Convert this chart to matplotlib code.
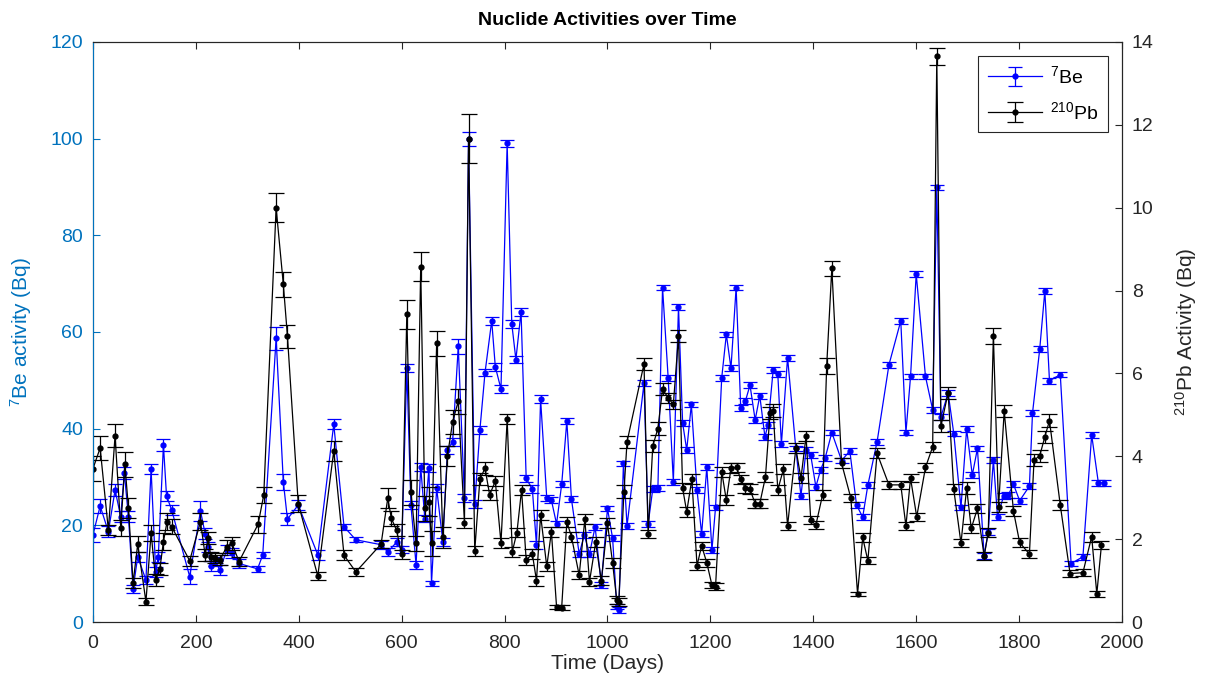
import matplotlib
matplotlib.use("Agg")
import matplotlib.pyplot as plt
import numpy as np

plt.rcParams['font.family'] = ['Liberation Sans', 'DejaVu Sans']
plt.rcParams['mathtext.default'] = 'regular'

# 7Be series (days, Bq, +/- Bq)
be_days = [0, 14, 30, 43, 54, 61, 69, 78, 87, 103,
           113, 122, 127, 137, 143, 153, 188, 209, 218, 224,
           229, 237, 247, 260, 270, 284, 320, 330, 356, 370,
           378, 399, 437, 468, 488, 511, 560, 573, 590, 600,
           610, 618, 628, 637, 645, 653, 658, 668, 680, 689,
           699, 710, 722, 730, 742, 752, 762, 775, 782, 793,
           805, 814, 822, 832, 842, 854, 862, 870, 882, 891,
           901, 911, 921, 930, 945, 955, 965, 976, 988, 1000,
           1010, 1018, 1022, 1031, 1038, 1071, 1079, 1088, 1098, 1107,
           1118, 1128, 1138, 1146, 1154, 1163, 1174, 1183, 1193, 1203,
           1210, 1222, 1231, 1240, 1250, 1259, 1268, 1277, 1287, 1296,
           1306, 1312, 1322, 1331, 1338, 1350, 1366, 1376, 1386, 1395,
           1405, 1414, 1423, 1436, 1455, 1471, 1484, 1496, 1506, 1524,
           1547, 1570, 1580, 1589, 1600, 1618, 1632, 1640, 1648, 1662,
           1673, 1687, 1698, 1709, 1719, 1732, 1740, 1750, 1758, 1770,
           1779, 1789, 1801, 1820, 1826, 1840, 1850, 1859, 1880, 1901,
           1924, 1941, 1954, 1964]
be_act = [18.0, 24.0, 18.7, 27.3, 21.8, 30.8, 21.8, 6.8, 13.5, 8.7,
          31.6, 10.4, 13.5, 36.6, 26.1, 23.2, 9.4, 23.0, 18.3, 15.5,
          11.6, 12.5, 10.8, 14.9, 14.3, 12.1, 11.0, 13.9, 58.7, 29.0,
          21.3, 24.2, 13.9, 40.9, 19.7, 17.0, 16.0, 14.5, 16.5, 15.0,
          52.5, 24.2, 11.8, 32.1, 21.4, 31.8, 8.0, 27.7, 16.6, 35.6,
          37.3, 57.0, 25.6, 99.9, 24.4, 39.7, 51.6, 62.3, 52.8, 48.2,
          99.0, 61.7, 54.3, 64.2, 29.7, 27.5, 15.9, 46.1, 25.6, 25.2,
          20.3, 28.5, 41.6, 25.4, 14.1, 18.0, 14.1, 19.7, 7.7, 23.5,
          17.3, 3.2, 2.5, 32.8, 19.9, 49.4, 20.3, 27.5, 27.7, 69.2,
          50.4, 29.0, 65.2, 41.2, 35.6, 45.0, 27.3, 18.2, 32.0, 14.9,
          23.7, 50.5, 59.5, 52.5, 69.2, 44.2, 45.7, 49.0, 41.8, 46.8,
          38.3, 40.8, 52.1, 51.3, 36.8, 54.7, 35.9, 26.1, 35.6, 34.5,
          28.0, 31.4, 33.9, 39.2, 33.4, 35.4, 24.2, 21.7, 28.3, 37.3,
          53.2, 62.3, 39.2, 50.8, 72.0, 50.8, 43.9, 89.9, 42.4, 47.4,
          39.0, 23.7, 39.9, 30.4, 35.9, 13.7, 18.7, 33.5, 21.8, 26.1,
          26.3, 28.5, 25.1, 28.1, 43.2, 56.4, 68.5, 49.9, 51.2, 12.1,
          13.5, 38.7, 28.8, 28.8]
be_err = [1.5, 1.5, 1.2, 1.3, 1.2, 1.2, 1.2, 0.8, 1.0, 0.8,
          1.0, 1.0, 1.0, 1.2, 1.0, 1.0, 1.5, 2.0, 1.2, 1.0,
          1.0, 1.0, 1.0, 1.0, 1.0, 1.0, 0.6, 0.6, 2.4, 1.6,
          1.2, 1.0, 1.0, 1.0, 0.6, 0.5, 0.8, 0.8, 0.8, 0.8,
          0.8, 0.8, 0.8, 0.8, 0.8, 0.8, 0.5, 0.8, 0.8, 0.8,
          0.8, 1.6, 0.8, 1.4, 0.8, 0.8, 0.8, 0.8, 0.8, 0.8,
          0.8, 0.8, 0.8, 0.8, 0.8, 0.8, 0.8, 0.8, 0.6, 0.6,
          0.6, 0.6, 0.6, 0.6, 0.6, 0.6, 0.6, 0.6, 0.6, 0.6,
          0.6, 0.6, 0.6, 0.6, 0.6, 0.6, 0.6, 0.6, 0.6, 0.6,
          0.6, 0.6, 0.6, 0.6, 0.6, 0.6, 0.6, 0.6, 0.6, 0.6,
          0.6, 0.6, 0.6, 0.6, 0.6, 0.6, 0.6, 0.6, 0.6, 0.6,
          0.6, 0.6, 0.6, 0.6, 0.6, 0.6, 0.6, 0.6, 0.6, 0.6,
          0.6, 0.6, 0.6, 0.6, 0.6, 0.6, 0.6, 0.6, 0.6, 0.6,
          0.6, 0.6, 0.6, 0.6, 0.6, 0.6, 0.6, 0.6, 0.6, 0.6,
          0.6, 0.6, 0.6, 0.6, 0.6, 0.6, 0.6, 0.6, 0.6, 0.6,
          0.6, 0.6, 0.6, 0.6, 0.6, 0.6, 0.6, 0.6, 0.6, 0.6,
          0.6, 0.6, 0.6, 0.6]

# 210Pb series (days, Bq, +/- Bq)
pb_days = [0, 14, 30, 43, 54, 62, 69, 78, 87, 103,
           113, 122, 130, 137, 144, 153, 188, 209, 218, 224,
           229, 237, 247, 260, 270, 284, 321, 332, 356, 370,
           378, 399, 437, 468, 488, 511, 560, 573, 580, 590,
           600, 610, 618, 628, 637, 645, 653, 658, 668, 680,
           689, 699, 710, 722, 730, 742, 752, 762, 771, 782,
           793, 805, 815, 824, 833, 842, 854, 862, 870, 882,
           891, 901, 911, 921, 930, 945, 956, 965, 977, 988,
           1000, 1010, 1018, 1022, 1032, 1038, 1071, 1079, 1088, 1098,
           1107, 1118, 1128, 1138, 1146, 1154, 1164, 1174, 1183, 1193,
           1203, 1210, 1222, 1231, 1240, 1251, 1259, 1268, 1277, 1287,
           1296, 1307, 1316, 1322, 1331, 1342, 1350, 1366, 1376, 1386,
           1395, 1405, 1418, 1426, 1436, 1455, 1473, 1486, 1496, 1506,
           1524, 1547, 1570, 1580, 1589, 1601, 1618, 1632, 1640, 1648,
           1662, 1673, 1687, 1698, 1707, 1719, 1732, 1740, 1750, 1760,
           1771, 1789, 1801, 1820, 1829, 1840, 1850, 1859, 1880, 1899,
           1924, 1941, 1951, 1960]
pb_act = [3.7, 4.2, 2.22, 4.5, 2.27, 3.81, 2.75, 0.94, 1.88, 0.49,
          2.15, 1.01, 1.28, 1.94, 2.42, 2.30, 1.48, 2.42, 1.62, 2.03,
          1.58, 1.54, 1.50, 1.82, 1.90, 1.46, 2.36, 3.07, 10.0, 8.15,
          6.90, 2.86, 1.11, 4.13, 1.61, 1.21, 1.88, 2.99, 2.50, 2.22,
          1.63, 7.43, 3.13, 1.90, 8.58, 2.74, 2.90, 1.90, 6.73, 2.04,
          4.01, 4.83, 5.33, 2.40, 11.67, 1.71, 3.45, 3.71, 3.07, 3.40,
          1.91, 4.89, 1.70, 2.16, 3.19, 1.50, 1.64, 1.00, 2.58, 1.34,
          2.18, 0.37, 0.35, 2.42, 2.06, 1.13, 2.48, 0.97, 1.92, 1.00,
          2.38, 1.42, 0.53, 0.49, 3.15, 4.35, 6.23, 2.12, 4.25, 4.67,
          5.62, 5.41, 5.25, 6.90, 3.23, 2.66, 3.45, 1.36, 1.84, 1.43,
          0.89, 0.85, 3.63, 2.94, 3.71, 3.73, 3.44, 3.24, 3.20, 2.86,
          2.86, 3.50, 5.05, 5.10, 3.19, 3.69, 2.32, 4.19, 3.47, 4.49,
          2.46, 2.34, 3.07, 6.18, 8.54, 3.83, 2.99, 0.68, 2.04, 1.48,
          4.07, 3.31, 3.31, 2.32, 3.47, 2.54, 3.73, 4.23, 13.65, 4.73,
          5.53, 3.20, 1.90, 3.23, 2.26, 2.74, 1.59, 2.16, 6.90, 2.77,
          5.09, 2.68, 1.92, 1.64, 3.91, 4.01, 4.47, 4.86, 2.82, 1.17,
          1.19, 2.06, 0.68, 1.86]
pb_err = [0.30, 0.28, 0.12, 0.28, 0.20, 0.30, 0.25, 0.12, 0.20, 0.08,
          0.20, 0.15, 0.15, 0.20, 0.20, 0.18, 0.12, 0.20, 0.15, 0.15,
          0.10, 0.12, 0.12, 0.15, 0.15, 0.12, 0.20, 0.20, 0.35, 0.30,
          0.28, 0.20, 0.10, 0.25, 0.12, 0.10, 0.10, 0.25, 0.18, 0.15,
          0.12, 0.35, 0.30, 0.18, 0.35, 0.30, 0.35, 0.30, 0.30, 0.25,
          0.25, 0.28, 0.30, 0.12, 0.60, 0.12, 0.15, 0.15, 0.12, 0.12,
          0.12, 0.12, 0.12, 0.12, 0.12, 0.12, 0.12, 0.12, 0.12, 0.12,
          0.12, 0.05, 0.05, 0.12, 0.12, 0.10, 0.12, 0.10, 0.12, 0.10,
          0.12, 0.12, 0.10, 0.10, 0.15, 0.15, 0.15, 0.10, 0.15, 0.15,
          0.15, 0.12, 0.12, 0.15, 0.12, 0.12, 0.12, 0.10, 0.10, 0.10,
          0.08, 0.08, 0.12, 0.12, 0.12, 0.12, 0.12, 0.12, 0.12, 0.10,
          0.10, 0.12, 0.15, 0.15, 0.12, 0.12, 0.10, 0.12, 0.12, 0.12,
          0.10, 0.10, 0.12, 0.20, 0.18, 0.12, 0.10, 0.05, 0.10, 0.08,
          0.12, 0.10, 0.10, 0.10, 0.10, 0.10, 0.12, 0.12, 0.20, 0.15,
          0.15, 0.12, 0.10, 0.15, 0.10, 0.12, 0.10, 0.12, 0.20, 0.12,
          0.15, 0.12, 0.10, 0.10, 0.15, 0.15, 0.15, 0.15, 0.12, 0.08,
          0.08, 0.12, 0.08, 0.10]

assert len(be_days) == len(be_act) == len(be_err)
assert len(pb_days) == len(pb_act) == len(pb_err)

left_col = '#0072BD'
dark = '#262626'

fig = plt.figure(figsize=(12.07, 6.96), dpi=100)
ax = fig.add_axes([0.077, 0.1063, 0.8526, 0.8334])
ax2 = ax.twinx()

h1 = ax.errorbar(be_days, be_act, yerr=be_err, color='b', marker='.', markersize=7,
                 linewidth=0.9, capsize=5, elinewidth=0.9, capthick=0.9)
h2 = ax2.errorbar(pb_days, pb_act, yerr=pb_err, color='k', marker='.', markersize=7,
                  linewidth=0.9, capsize=6, elinewidth=0.9, capthick=0.9)

ax.set_xlim(0, 2000)
ax.set_ylim(0, 120)
ax2.set_ylim(0, 14)
ax.set_xticks(np.arange(0, 2001, 200))
ax.set_yticks(np.arange(0, 121, 20))
ax2.set_yticks(np.arange(0, 15, 2))

ax.tick_params(axis='x', direction='in', top=True, labelsize=14, colors=dark, length=5, pad=9)
ax.tick_params(axis='y', direction='in', labelsize=14, colors=left_col, length=5, pad=7)
ax2.tick_params(axis='y', direction='in', labelsize=14, colors=dark, length=5, pad=7)
for a in (ax, ax2):
    a.spines['top'].set_color(dark)
    a.spines['bottom'].set_color(dark)
ax2.spines['left'].set_color(left_col)
ax2.spines['right'].set_color(dark)

ax.set_xlabel('Time (Days)', fontsize=15, color=dark, labelpad=2)
ax.set_ylabel('$^{7}$Be activity (Bq)', fontsize=15, color=left_col, labelpad=12)
ax2.set_ylabel('$^{210}$Pb Activity (Bq)', fontsize=15, color=dark, labelpad=14)
ax.set_title('Nuclide Activities over Time', fontsize=14, fontweight='bold', pad=12)

leg = ax2.legend([h1, h2], ['$^{7}$Be', '$^{210}$Pb'], loc='upper right', fontsize=14,
                 fancybox=False, framealpha=1, edgecolor=dark, handlelength=2.8,
                 handletextpad=0.4, borderaxespad=0.7, labelspacing=0.7, borderpad=0.5)
leg.get_frame().set_linewidth(0.8)

plt.savefig('out.png', dpi=100)
